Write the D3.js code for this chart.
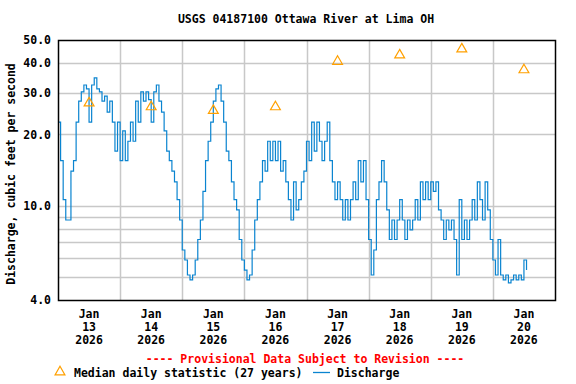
<!DOCTYPE html>
<html>
<head>
<meta charset="utf-8">
<script src="https://cdn.jsdelivr.net/npm/d3@7"></script>
<style>
  body { margin: 0; background: #fff; }
  text { font-family: "DejaVu Sans Mono", "Liberation Mono", monospace; font-weight: bold; }
</style>
</head>
<body>
<div id="chart-area"></div>
<script>
// chart size
var width = 576,
	height = 384;
let margin = {top: 40, right: 21, bottom: 84, left: 58};

// discharge, cfs, one reading per hour starting Jan 13 2026 00:00
let startTime = new Date(2026, 0, 13, 0, 0);
let stepHours = 1;
let discharge = [
	22.5, 15.5, 10.6, 8.7, 8.7, 14.0, 15.5, 22.5, 27.6, 30.2,
	32.3, 31.1, 22.5, 32.3, 34.6, 31.1, 30.2, 27.6, 29.0, 24.8,
	27.6, 22.5, 17.0, 22.5, 15.5, 20.7, 15.5, 18.7, 22.5, 18.7,
	27.6, 22.5, 30.2, 27.6, 30.2, 28.0, 22.5, 30.2, 32.3, 27.6,
	24.8, 20.7, 17.0, 15.5, 14.0, 12.6, 10.6, 8.7, 6.5, 5.9,
	5.1, 4.86, 5.1, 5.9, 7.2, 8.7, 11.5, 15.5, 18.7, 22.5,
	27.6, 31.1, 32.3, 27.6, 22.5, 17.0, 15.5, 12.6, 10.6, 9.6,
	7.2, 5.9, 5.35, 4.86, 5.1, 6.5, 8.7, 10.6, 12.6, 15.5,
	14.0, 18.7, 15.5, 18.7, 15.5, 18.7, 14.0, 15.5, 12.6, 10.6,
	8.7, 12.6, 9.6, 10.6, 12.6, 14.0, 18.7, 15.5, 22.5, 17.0,
	22.5, 18.7, 15.5, 18.7, 22.5, 15.5, 12.6, 10.6, 12.6, 10.6,
	8.7, 10.6, 8.7, 10.6, 12.6, 10.6, 15.5, 12.6, 15.5, 10.6,
	7.2, 5.1, 6.5, 10.6, 12.6, 15.5, 12.6, 9.6, 7.2, 8.7,
	7.2, 8.7, 10.6, 8.7, 7.2, 8.7, 7.9, 8.7, 10.6, 8.7,
	12.6, 10.6, 12.6, 10.6, 12.6, 11.5, 12.6, 9.6, 8.7, 7.2,
	8.7, 7.9, 8.7, 7.2, 5.1, 10.6, 7.2, 8.7, 7.2, 8.7,
	10.6, 8.7, 12.6, 10.6, 8.7, 12.6, 9.6, 7.2, 5.9, 5.1,
	7.2, 5.1, 4.86, 5.1, 4.72, 4.86, 5.1, 4.86, 5.1, 4.86,
	5.9, 5.35
];

// median daily statistic (27 years), plotted at noon
let medianDays = [13, 14, 15, 16, 17, 18, 19, 20];
let medianValues = [27.1, 26.1, 25.2, 26.1, 40.6, 43.2, 45.8, 37.4];

// axis labels
let dayLabels = ["13", "14", "15", "16", "17", "18", "19", "20"];
let yTicks = [4, 10, 20, 30, 40, 50];
let yGrid = [5, 6, 7, 8, 9, 10, 20, 30, 40];

let series = discharge.map((v, i) => ({
	date: new Date(startTime.getTime() + i * stepHours * 3600000),
	value: v
}));

let svg = d3.select("#chart-area").append("svg")
	.attr("width", width)
	.attr("height", height);

let x = d3.scaleTime()
	.domain([new Date(2026, 0, 13), new Date(2026, 0, 21)])
	.range([margin.left, width - margin.right]);

let y = d3.scaleLog()
	.domain([4, 50])
	.range([height - margin.bottom, margin.top]);

// grid
svg.append("g")
	.selectAll("line")
	.data(yGrid)
	.enter()
	.append("line")
	.attr("x1", margin.left)
	.attr("x2", width - margin.right)
	.attr("y1", d => Math.round(y(d)) + 0.5)
	.attr("y2", d => Math.round(y(d)) + 0.5)
	.attr("stroke", "#c8c8c8")
	.attr("stroke-width", 1.5);

let dayLines = d3.timeDay.range(new Date(2026, 0, 14), new Date(2026, 0, 21));
svg.append("g")
	.selectAll("line")
	.data(dayLines)
	.enter()
	.append("line")
	.attr("x1", d => Math.round(x(d)) + 0.5)
	.attr("x2", d => Math.round(x(d)) + 0.5)
	.attr("y1", margin.top)
	.attr("y2", height - margin.bottom)
	.attr("stroke", "#c8c8c8")
	.attr("stroke-width", 1.5);

// discharge line
let line = d3.line()
	.x(d => x(d.date))
	.y(d => y(d.value))
	.curve(d3.curveStepAfter);

svg.append("path")
	.datum(series)
	.attr("fill", "none")
	.attr("stroke", "#0a84d0")
	.attr("stroke-width", 1.2)
	.attr("d", line);

// medians
let tri = d3.symbol().type(d3.symbolTriangle).size(42);
svg.append("g")
	.selectAll("path")
	.data(medianDays)
	.enter()
	.append("path")
	.attr("d", tri)
	.attr("transform", (d, i) => "translate(" + x(new Date(2026, 0, d, 12)) + "," + y(medianValues[i]) + ")")
	.attr("fill", "none")
	.attr("stroke", "#ffa000")
	.attr("stroke-width", 1.2);

// frame
svg.append("rect")
	.attr("x", margin.left + 0.5)
	.attr("y", margin.top + 0.5)
	.attr("width", width - margin.left - margin.right)
	.attr("height", height - margin.top - margin.bottom)
	.attr("fill", "none")
	.attr("stroke", "black")
	.attr("stroke-width", 1.5);

// y axis labels
let yaxis = d3.axisLeft(y)
	.tickValues(yTicks)
	.tickFormat(d3.format(".1f"))
	.tickSize(0)
	.tickPadding(7);

let gy = svg.append("g")
	.attr("transform", "translate(" + margin.left + ",0)")
	.call(yaxis);
gy.select(".domain").remove();
gy.selectAll("text")
	.attr("font-size", "11.5px")
	.attr("font-family", "DejaVu Sans Mono")
	.attr("fill", "black");

// x axis labels at noon
let xl = svg.append("g")
	.selectAll("text")
	.data(dayLabels)
	.enter()
	.append("text")
	.attr("text-anchor", "middle")
	.attr("font-size", "11.5px")
	.attr("transform", (d, i) => "translate(" + x(new Date(2026, 0, 13 + i, 12)) + ",318)");
xl.append("tspan").attr("x", 0).attr("dy", 0).text("Jan");
xl.append("tspan").attr("x", 0).attr("dy", 13).text(d => d);
xl.append("tspan").attr("x", 0).attr("dy", 13).text("2026");

// title
svg.append("text")
	.attr("x", 306)
	.attr("y", 23)
	.attr("text-anchor", "middle")
	.attr("font-size", "11.5px")
	.text("USGS 04187100 Ottawa River at Lima OH");

// y title
svg.append("text")
	.attr("transform", "translate(15,174) rotate(-90)")
	.attr("text-anchor", "middle")
	.attr("font-size", "11.5px")
	.text("Discharge, cubic feet per second");

// provisional note
svg.append("text")
	.attr("x", 305)
	.attr("y", 363)
	.attr("text-anchor", "middle")
	.attr("font-size", "11.5px")
	.attr("fill", "red")
	.text("---- Provisional Data Subject to Revision ----");

// legend
svg.append("path")
	.attr("d", tri)
	.attr("transform", "translate(60,372)")
	.attr("fill", "none")
	.attr("stroke", "#ffa000")
	.attr("stroke-width", 1.2);
svg.append("text")
	.attr("x", 74)
	.attr("y", 377)
	.attr("font-size", "11.5px")
	.text("Median daily statistic (27 years)");
svg.append("line")
	.attr("x1", 313)
	.attr("x2", 330)
	.attr("y1", 372.5)
	.attr("y2", 372.5)
	.attr("stroke", "#0a84d0")
	.attr("stroke-width", 1.3);
svg.append("text")
	.attr("x", 337)
	.attr("y", 377)
	.attr("font-size", "11.5px")
	.text("Discharge");
</script>
</body>
</html>
